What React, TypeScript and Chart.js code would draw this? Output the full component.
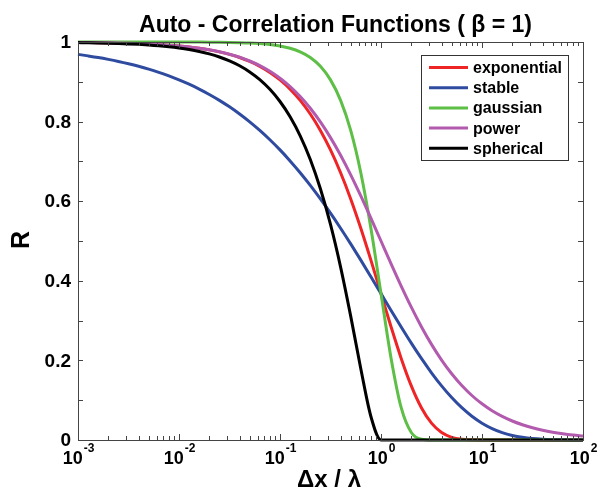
import React, { useEffect, useRef } from "react";
import { Chart, registerables } from "chart.js";

Chart.register(...registerables);

// Lag values Δx/λ (log-spaced, 0.1 decade)
const X_VALUES = [
  0.001, 0.0012589, 0.0015849, 0.0019953, 0.0025119, 0.0031623, 0.0039811, 0.0050119, 0.0063096, 0.0079433,
  0.01, 0.012589, 0.015849, 0.019953, 0.025119, 0.031623, 0.039811, 0.050119, 0.063096, 0.079433,
  0.1, 0.12589, 0.15849, 0.19953, 0.25119, 0.31623, 0.39811, 0.50119, 0.63096, 0.79433,
  1, 1.2589, 1.5849, 1.9953, 2.5119, 3.1623, 3.9811, 5.0119, 6.3096, 7.9433,
  10, 12.589, 15.849, 19.953, 25.119, 31.623, 39.811, 50.119, 63.096, 79.433,
  100,
];

const EXPONENTIAL = [
  0.999, 0.9987, 0.9984, 0.998, 0.9975, 0.9968, 0.996, 0.995, 0.9937, 0.9921,
  0.99, 0.9875, 0.9843, 0.9802, 0.9752, 0.9689, 0.961, 0.9511, 0.9389, 0.9236,
  0.9048, 0.8817, 0.8534, 0.8191, 0.7779, 0.7289, 0.6716, 0.6058, 0.5321, 0.4519,
  0.3679, 0.284, 0.205, 0.136, 0.0811, 0.0423, 0.0187, 0.0067, 0.0018, 0.0004,
  0.00005, 0, 0, 0, 0, 0, 0, 0, 0, 0,
  0,
];

const STABLE = [
  0.9689, 0.9651, 0.961, 0.9563, 0.9511, 0.9453, 0.9389, 0.9317, 0.9236, 0.9147,
  0.9048, 0.8939, 0.8817, 0.8682, 0.8534, 0.8371, 0.8191, 0.7994, 0.7779, 0.7544,
  0.7289, 0.7013, 0.6716, 0.6398, 0.6058, 0.5699, 0.5321, 0.4927, 0.4519, 0.4101,
  0.3679, 0.3256, 0.284, 0.2435, 0.205, 0.1689, 0.136, 0.1066, 0.0811, 0.0597,
  0.0423, 0.0288, 0.0187, 0.0115, 0.0067, 0.0036, 0.0018, 0.00084, 0.00036, 0.00013,
  0.00005,
];

const GAUSSIAN = [
  1, 1, 1, 1, 1, 1, 1, 1, 1, 1,
  0.9999, 0.9998, 0.9997, 0.9996, 0.9994, 0.999, 0.9984, 0.9975, 0.996, 0.9937,
  0.99, 0.9843, 0.9752, 0.961, 0.9389, 0.9048, 0.8534, 0.7779, 0.6716, 0.5321,
  0.3679, 0.205, 0.0811, 0.0187, 0.0018, 0, 0, 0, 0, 0,
  0, 0, 0, 0, 0, 0, 0, 0, 0, 0,
  0,
];

const POWER = [
  0.999, 0.99874, 0.99842, 0.99801, 0.99749, 0.99685, 0.99603, 0.99501, 0.99373, 0.99212,
  0.9901, 0.98757, 0.9844, 0.98044, 0.9755, 0.96935, 0.96171, 0.95227, 0.94065, 0.92642,
  0.90909, 0.88819, 0.86319, 0.83366, 0.7992, 0.75975, 0.71526, 0.66614, 0.61314, 0.55732,
  0.5, 0.4427, 0.38685, 0.33389, 0.28472, 0.24025, 0.2008, 0.16634, 0.13681, 0.11181,
  0.09091, 0.07358, 0.0594, 0.04773, 0.03829, 0.03065, 0.02451, 0.01956, 0.01561, 0.01243,
  0.0099,
];

const SPHERICAL = [
  0.9985, 0.99811, 0.99762, 0.99701, 0.99623, 0.99526, 0.99403, 0.99248, 0.99054, 0.98809,
  0.985, 0.98112, 0.97623, 0.97008, 0.96233, 0.95258, 0.94031, 0.92488, 0.90548, 0.8811,
  0.8505, 0.81217, 0.76426, 0.70468, 0.63114, 0.54147, 0.43439, 0.31117, 0.17916, 0.0591,
  0, 0, 0, 0, 0, 0, 0, 0, 0, 0,
  0, 0, 0, 0, 0, 0, 0, 0, 0, 0,
  0,
];

const SERIES_NAMES = ["exponential", "stable", "gaussian", "power", "spherical"];
const SERIES_COLORS = ["#ee2426", "#2e4ba0", "#5dbf45", "#b25bae", "#000000"];
const SERIES_VALUES = [EXPONENTIAL, STABLE, GAUSSIAN, POWER, SPHERICAL];

const Y_TICKS = [0, 0.2, 0.4, 0.6, 0.8, 1];
const Y_TICK_LABELS = ["0", "0.2", "0.4", "0.6", "0.8", "1"];
const X_TICKS = [0.001, 0.01, 0.1, 1, 10, 100];
const X_TICK_EXPONENTS = ["-3", "-2", "-1", "0", "1", "2"];

const TITLE = "Auto - Correlation Functions ( \u03b2 = 1)";
const X_LABEL = "\u0394x / \u03bb";
const Y_LABEL = "R";

const FONT = '"Liberation Sans", Arial, Helvetica, sans-serif';

const decorPlugin = {
  id: "decor",
  afterDraw(chart: any) {
    const ctx = chart.ctx as CanvasRenderingContext2D;
    const { left, right, top, bottom } = chart.chartArea;
    const xs = chart.scales.x;
    const ys = chart.scales.y;
    ctx.save();

    // box
    ctx.strokeStyle = "#444";
    ctx.lineWidth = 1;
    ctx.strokeRect(Math.round(left) + 0.5, Math.round(top) + 0.5, Math.round(right - left), Math.round(bottom - top));

    // y ticks (major + minor every 0.1)
    ctx.beginPath();
    for (let i = 1; i < 10; i++) {
      const py = Math.round(ys.getPixelForValue(i / 10)) + 0.5;
      ctx.moveTo(left, py);
      ctx.lineTo(left + 5, py);
      ctx.moveTo(right, py);
      ctx.lineTo(right - 5, py);
    }
    // x ticks
    for (let d = -3; d <= 1; d++) {
      for (let m = 1; m <= 9; m++) {
        const v = m * Math.pow(10, d);
        const px = Math.round(xs.getPixelForValue(v)) + 0.5;
        const len = m === 1 ? 6 : 4;
        if (m === 1 && d === -3) continue;
        ctx.moveTo(px, bottom);
        ctx.lineTo(px, bottom - len);
        ctx.moveTo(px, top);
        ctx.lineTo(px, top + len);
      }
    }
    ctx.stroke();

    ctx.fillStyle = "#000";
    // y tick labels
    ctx.font = `bold 19px ${FONT}`;
    ctx.textAlign = "right";
    ctx.textBaseline = "middle";
    Y_TICKS.forEach((v, i) => {
      ctx.fillText(Y_TICK_LABELS[i], left - 7, ys.getPixelForValue(v) + 1);
    });

    // x tick labels with superscripts
    ctx.textAlign = "left";
    ctx.textBaseline = "alphabetic";
    X_TICKS.forEach((v, i) => {
      const px = xs.getPixelForValue(v);
      ctx.font = `bold 18px ${FONT}`;
      const wBase = ctx.measureText("10").width;
      ctx.font = `bold 12px ${FONT}`;
      const wExp = ctx.measureText(X_TICK_EXPONENTS[i]).width;
      const x0 = px - (wBase + wExp) / 2;
      ctx.font = `bold 18px ${FONT}`;
      ctx.fillText("10", x0, 464);
      ctx.font = `bold 12px ${FONT}`;
      ctx.fillText(X_TICK_EXPONENTS[i], x0 + wBase + 1, 452);
    });

    // title
    ctx.font = `bold 23px ${FONT}`;
    ctx.textAlign = "center";
    ctx.fillText(TITLE, 335.5, 32);

    // x label
    ctx.font = `bold 24px ${FONT}`;
    ctx.fillText(X_LABEL, 329, 487);

    // y label
    ctx.save();
    ctx.translate(29, 240);
    ctx.rotate(-Math.PI / 2);
    ctx.font = `bold 25px ${FONT}`;
    ctx.textAlign = "center";
    ctx.textBaseline = "alphabetic";
    ctx.fillText(Y_LABEL, 0, 0);
    ctx.restore();

    // legend
    ctx.fillStyle = "#fff";
    ctx.fillRect(421.5, 55.5, 147, 105);
    ctx.strokeStyle = "#333";
    ctx.lineWidth = 1;
    ctx.strokeRect(421.5, 55.5, 147, 105);
    ctx.font = `bold 16px ${FONT}`;
    ctx.textAlign = "left";
    ctx.textBaseline = "middle";
    SERIES_NAMES.forEach((name, i) => {
      const y = 67.5 + i * 20.2;
      ctx.strokeStyle = SERIES_COLORS[i];
      ctx.lineWidth = 3;
      ctx.beginPath();
      ctx.moveTo(429, y);
      ctx.lineTo(468, y);
      ctx.stroke();
      ctx.fillStyle = "#000";
      ctx.fillText(name, 473, y + 1);
    });

    ctx.restore();
  },
};

export default function App() {
  const ref = useRef<HTMLCanvasElement>(null);
  useEffect(() => {
    document.body.style.margin = "0";
    const canvas = ref.current;
    if (!canvas) return;
    const chart = new Chart(canvas, {
      type: "line",
      data: {
        datasets: SERIES_NAMES.map((name, i) => ({
          label: name,
          data: X_VALUES.map((x, j) => ({ x, y: SERIES_VALUES[i][j] })),
          borderColor: SERIES_COLORS[i],
          backgroundColor: SERIES_COLORS[i],
          borderWidth: 3,
          pointRadius: 0,
          fill: false,
          cubicInterpolationMode: "monotone" as const,
          order: 5 - i,
          clip: false as any,
        })),
      },
      options: {
        responsive: false,
        animation: false,
        events: [],
        layout: { padding: { top: 42, right: 15, left: 0, bottom: 0 } },
        plugins: {
          legend: { display: false },
          title: { display: false },
          tooltip: { enabled: false },
        },
        scales: {
          x: {
            type: "logarithmic",
            min: 0.001,
            max: 100,
            ticks: { display: false },
            grid: { display: false },
            border: { display: false },
            afterFit: (s: any) => {
              s.height = 50;
            },
          },
          y: {
            type: "linear",
            min: 0,
            max: 1,
            ticks: { display: false },
            grid: { display: false },
            border: { display: false },
            afterFit: (s: any) => {
              s.width = 78;
            },
          },
        },
      },
      plugins: [decorPlugin],
    } as any);
    return () => chart.destroy();
  }, []);
  return (
    <div style={{ position: "absolute", left: 0, top: 0 }}>
      <canvas ref={ref} width={598} height={490} style={{ width: 598, height: 490 }} />
    </div>
  );
}
